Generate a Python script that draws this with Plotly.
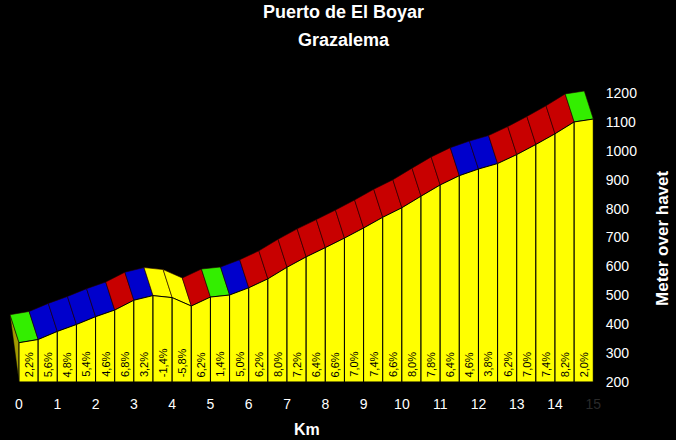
import plotly.graph_objects as go

# profile data, 0.5 km segments
km = [0.0, 0.5, 1.0, 1.5, 2.0, 2.5, 3.0, 3.5, 4.0, 4.5, 5.0, 5.5, 6.0, 6.5, 7.0, 7.5,
      8.0, 8.5, 9.0, 9.5, 10.0, 10.5, 11.0, 11.5, 12.0, 12.5, 13.0, 13.5, 14.0, 14.5, 15.0]
altitude = [336, 347, 375, 399, 426, 449, 483, 499, 492, 463, 494, 501, 526, 557, 597, 633,
            665, 698, 733, 770, 803, 843, 882, 914, 937, 956, 987, 1022, 1059, 1100, 1110]
gradient = [2.2, 5.6, 4.8, 5.4, 4.6, 6.8, 3.2, -1.4, -5.8, 6.2, 1.4, 5.0, 6.2, 8.0, 7.2,
            6.4, 6.6, 7.0, 7.4, 6.6, 8.0, 7.8, 6.4, 4.6, 3.8, 6.2, 7.0, 7.4, 8.2, 2.0]
x_ticks = list(range(16))
y_ticks = [200, 300, 400, 500, 600, 700, 800, 900, 1000, 1100, 1200]

BASE = 200
DX = 0.235   # depth offset, km
DY = 97      # depth offset, m


def band_color(g):
    if g < 0:
        return '#FFFF00'
    if g < 3:
        return '#33EE00'
    if g < 6:
        return '#0000CC'
    return '#C80000'


fig = go.Figure()

# left side face
fig.add_trace(go.Scatter(
    x=[km[0] - DX, km[0], km[0], km[0] - DX],
    y=[altitude[0] + DY, altitude[0], BASE, altitude[0] + DY],
    mode='lines', fill='toself', fillcolor='#A39A00',
    line=dict(color='#000000', width=0.5), hoverinfo='skip'))

# top (depth) bands
for i in range(len(gradient)):
    x0, x1 = km[i], km[i + 1]
    a0, a1 = altitude[i], altitude[i + 1]
    fig.add_trace(go.Scatter(
        x=[x0, x1, x1 - DX, x0 - DX, x0],
        y=[a0, a1, a1 + DY, a0 + DY, a0],
        mode='lines', fill='toself', fillcolor=band_color(gradient[i]),
        line=dict(color='#200000', width=0.6), hoverinfo='skip'))

# front face
for i in range(len(gradient)):
    x0, x1 = km[i], km[i + 1]
    a0, a1 = altitude[i], altitude[i + 1]
    fig.add_trace(go.Scatter(
        x=[x0, x1, x1, x0, x0],
        y=[a0, a1, BASE, BASE, a0],
        mode='lines', fill='toself', fillcolor='#FFFF00',
        line=dict(color='#000000', width=1), hoverinfo='skip'))

# gradient labels
for i, g in enumerate(gradient):
    fig.add_annotation(
        x=(km[i] + km[i + 1]) / 2, y=210, yanchor='bottom',
        text=('%.1f' % g).replace('.', ',') + '%',
        textangle=-90, showarrow=False,
        font=dict(family='Liberation Sans', size=11, color='#000000'))

# titles
fig.add_annotation(x=0.5736, y=1.113, xref='paper', yref='paper', yanchor='middle',
                   xanchor='center', text='<b>Puerto de El Boyar</b>', showarrow=False,
                   font=dict(family='Liberation Sans', size=18, color='#FFFFFF'))
fig.add_annotation(x=0.5736, y=1.030, xref='paper', yref='paper', yanchor='middle',
                   xanchor='center', text='<b>Grazalema</b>', showarrow=False,
                   font=dict(family='Liberation Sans', size=18, color='#FFFFFF'))

# axis titles
fig.add_annotation(x=1.1134, y=0.436, xref='paper', yref='paper', xanchor='center',
                   yanchor='middle', text='<b>Meter over havet</b>', textangle=-90,
                   showarrow=False,
                   font=dict(family='Liberation Sans', size=17, color='#FFFFFF'))
fig.add_annotation(x=0.511, y=-0.134, xref='paper', yref='paper', xanchor='center',
                   yanchor='middle', text='<b>Km</b>', showarrow=False,
                   font=dict(family='Liberation Sans', size=16, color='#FFFFFF'))

tick_text = [str(t) for t in x_ticks[:-1]] + ["<span style='color:#2a2a2a'>15</span>"]

fig.update_layout(
    width=676, height=440,
    paper_bgcolor='#000000', plot_bgcolor='#000000',
    showlegend=False,
    margin=dict(l=5, r=80, t=50, b=55, autoexpand=False),
    font=dict(family='Liberation Sans', color='#FFFFFF', size=14),
    xaxis=dict(range=[-0.366, 15.07], showgrid=False, zeroline=False, automargin=False,
               tickvals=x_ticks, ticktext=tick_text,
               ticks='outside', ticklen=6, tickcolor='#000000'),
    yaxis=dict(range=[189.6, 1349], side='right', showgrid=False, zeroline=False,
               automargin=False,
               tickvals=y_ticks, ticks='outside', ticklen=6, tickcolor='#000000'),
)

# page body has a default 8px margin; drop it so the figure sits at the window corner
fig.write_html("out.html", config={'displayModeBar': False},
               post_script="document.body.style.margin='0';")
